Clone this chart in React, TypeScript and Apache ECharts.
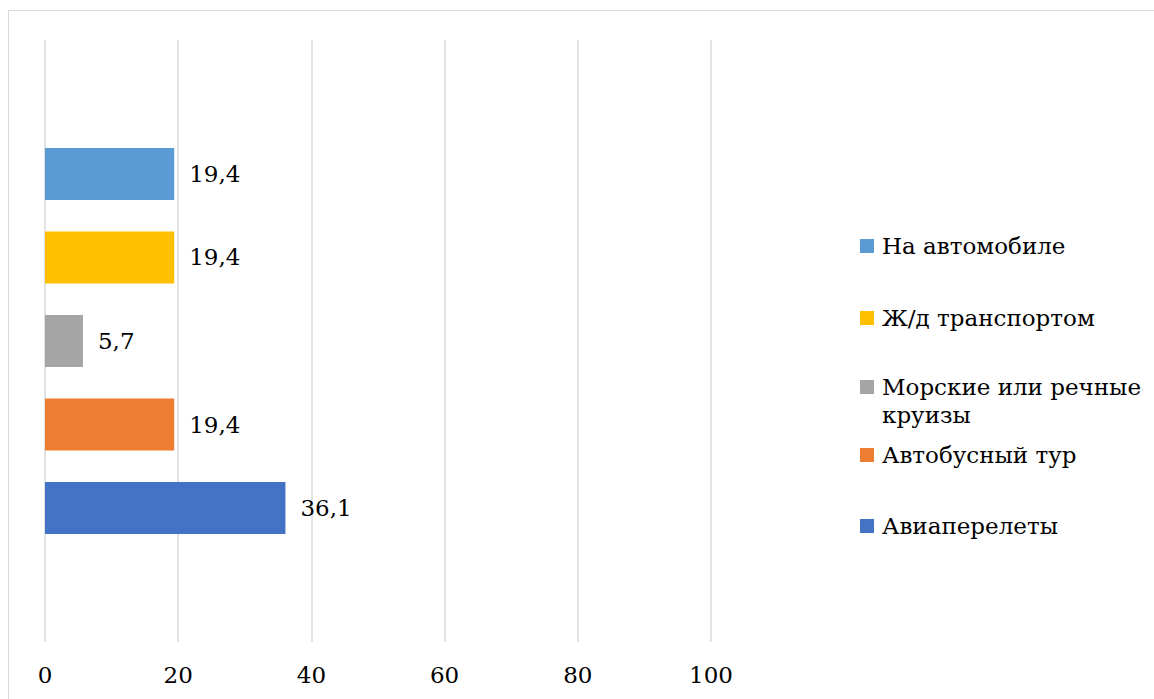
import React, { useEffect, useRef } from "react";
import * as echarts from "echarts";

// Category axis holds a single group; each transport mode is its own series
const categories = [""];
const seriesNames = [
  "На автомобиле",
  "Ж/д транспортом",
  "Морские или речные круизы",
  "Автобусный тур",
  "Авиаперелеты",
];
const seriesValues = [19.4, 19.4, 5.7, 19.4, 36.1];
const seriesColors = ["#5B9BD5", "#FFC000", "#A5A5A5", "#ED7D31", "#4472C4"];
const xTicks = [0, 20, 40, 60, 80, 100];

// Vertical centre of each legend marker
const legendCenters = [246, 318, 387, 455, 526];

const FONT = "DejaVu Serif";
const FS = 23;
const LH = 28;

export default function App() {
  const ref = useRef<HTMLDivElement>(null);

  useEffect(() => {
    if (!ref.current) return;
    const chart = echarts.init(ref.current, null, { renderer: "svg" });

    const fmt = (v: number) => String(v).replace(".", ",");

    const legends = seriesNames.map((name, i) => {
      const multi = name === "Морские или речные круизы";
      const lines = multi ? 3 : 1;
      return {
        data: [name],
        orient: "vertical",
        left: 860,
        top: legendCenters[i] - (lines * LH) / 2,
        padding: 0,
        itemWidth: 14,
        itemHeight: 14,
        icon: "rect",
        selectedMode: false,
        formatter: (n: string) =>
          n === "Морские или речные круизы" ? "\nМорские или речные\nкруизы" : n,
        textStyle: {
          fontFamily: FONT,
          fontSize: FS,
          lineHeight: LH,
          color: "#000",
          padding: [0, 0, 0, 3],
        },
      };
    });

    chart.setOption({
      animation: false,
      backgroundColor: "#fff",
      textStyle: { fontFamily: FONT },
      graphic: [
        {
          type: "rect",
          shape: { x: 8.5, y: 10.5, width: 1300, height: 900 },
          style: { fill: "none", stroke: "#d9d9d9", lineWidth: 1 },
          silent: true,
          z: -1,
        },
      ],
      legend: legends,
      grid: { left: 45, right: 1154 - 711, top: 40, bottom: 699 - 642 },
      xAxis: {
        type: "value",
        min: xTicks[0],
        max: xTicks[xTicks.length - 1],
        interval: xTicks[1] - xTicks[0],
        axisLine: { show: false },
        axisTick: { show: false },
        splitLine: { show: true, lineStyle: { color: "#d9d9d9", width: 1.5 } },
        axisLabel: {
          fontFamily: FONT,
          fontSize: FS,
          color: "#000",
          margin: 21,
        },
      },
      yAxis: {
        type: "category",
        data: categories,
        axisLine: { show: false },
        axisTick: { show: false },
        axisLabel: { show: false },
      },
      series: seriesNames.map((name, i) => ({
        name,
        type: "bar",
        data: [seriesValues[i]],
        barWidth: 52,
        barGap: "60.6%",
        itemStyle: { color: seriesColors[i] },
        label: {
          show: true,
          position: "right",
          distance: 15,
          fontFamily: FONT,
          fontSize: FS,
          color: "#000",
          formatter: (p: any) => fmt(p.value),
        },
      })),
    });

    return () => chart.dispose();
  }, []);

  return (
    <div
      ref={ref}
      style={{ position: "absolute", left: 0, top: 0, width: 1154, height: 699 }}
    />
  );
}
